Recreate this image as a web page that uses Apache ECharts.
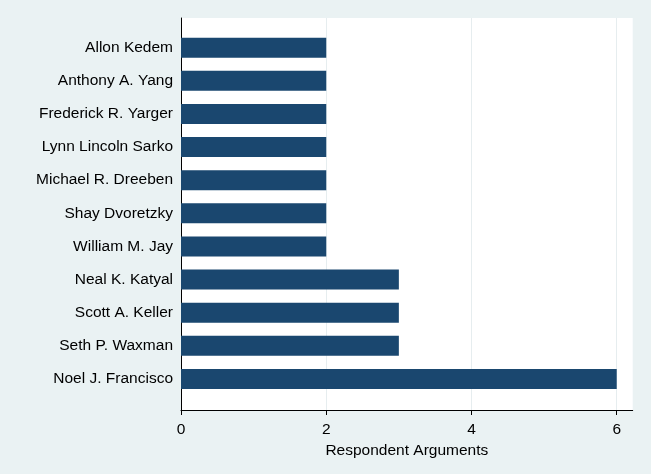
<!DOCTYPE html>
<html>
<head>
<meta charset="utf-8">
<script src="https://cdn.jsdelivr.net/npm/echarts@6/dist/echarts.min.js"></script>
<style>html,body{margin:0;padding:0;background:#eaf2f3;}#c{width:651px;height:474px;}</style>
</head>
<body>
<div id="c"></div>
<script>
const categories = ["Allon Kedem","Anthony A. Yang","Frederick R. Yarger","Lynn Lincoln Sarko","Michael R. Dreeben","Shay Dvoretzky","William M. Jay","Neal K. Katyal","Scott A. Keller","Seth P. Waxman","Noel J. Francisco"];
const values = [2,2,2,2,2,2,2,3,3,3,6];
const xTicks = [0,2,4,6];
const xTitle = "Respondent Arguments";

const chart = echarts.init(document.getElementById('c'), null, {renderer:'canvas'});
const font = "'Liberation Sans', Arial, sans-serif";
chart.setOption({
  backgroundColor: '#eaf2f3',
  animation: false,
  grid: [
    {left:181, right:18.3, top:18, bottom:64, show:true, backgroundColor:'#ffffff', borderWidth:0},
    {left:181, right:18.3, top:31.1, bottom:78.5, show:false}
  ],
  xAxis: [
    {gridIndex:0, type:'value', min:0, max:6.22, interval:2,
     axisLine:{show:true, lineStyle:{color:'#000', width:1}},
     axisTick:{show:true, length:5, customValues:xTicks, lineStyle:{color:'#000'}},
     axisLabel:{customValues:xTicks, color:'#000', fontSize:15.5, fontFamily:font, margin:12},
     splitLine:{show:true, lineStyle:{color:'#e6edef', width:1}},
     name:xTitle, nameLocation:'middle', nameGap:25,
     nameTextStyle:{color:'#000', fontSize:15.5, fontFamily:font}},
    {gridIndex:1, type:'value', min:0, max:6.22, show:false}
  ],
  yAxis: [
    {gridIndex:0, type:'value', min:0, max:1,
     axisLine:{show:true, onZero:false, lineStyle:{color:'#000', width:1}},
     axisTick:{show:false}, axisLabel:{show:false}, splitLine:{show:false}},
    {gridIndex:1, type:'category', data:categories, inverse:true,
     axisLine:{show:false}, axisTick:{show:false},
     axisLabel:{color:'#000', fontSize:15.5, fontFamily:font, margin:8, padding:[2,0,0,0]},
     splitLine:{show:false}}
  ],
  series: [{
    type:'bar', xAxisIndex:1, yAxisIndex:1, data:values, barWidth:20,
    itemStyle:{color:'#1a476f'}
  }]
});
</script>
</body>
</html>
